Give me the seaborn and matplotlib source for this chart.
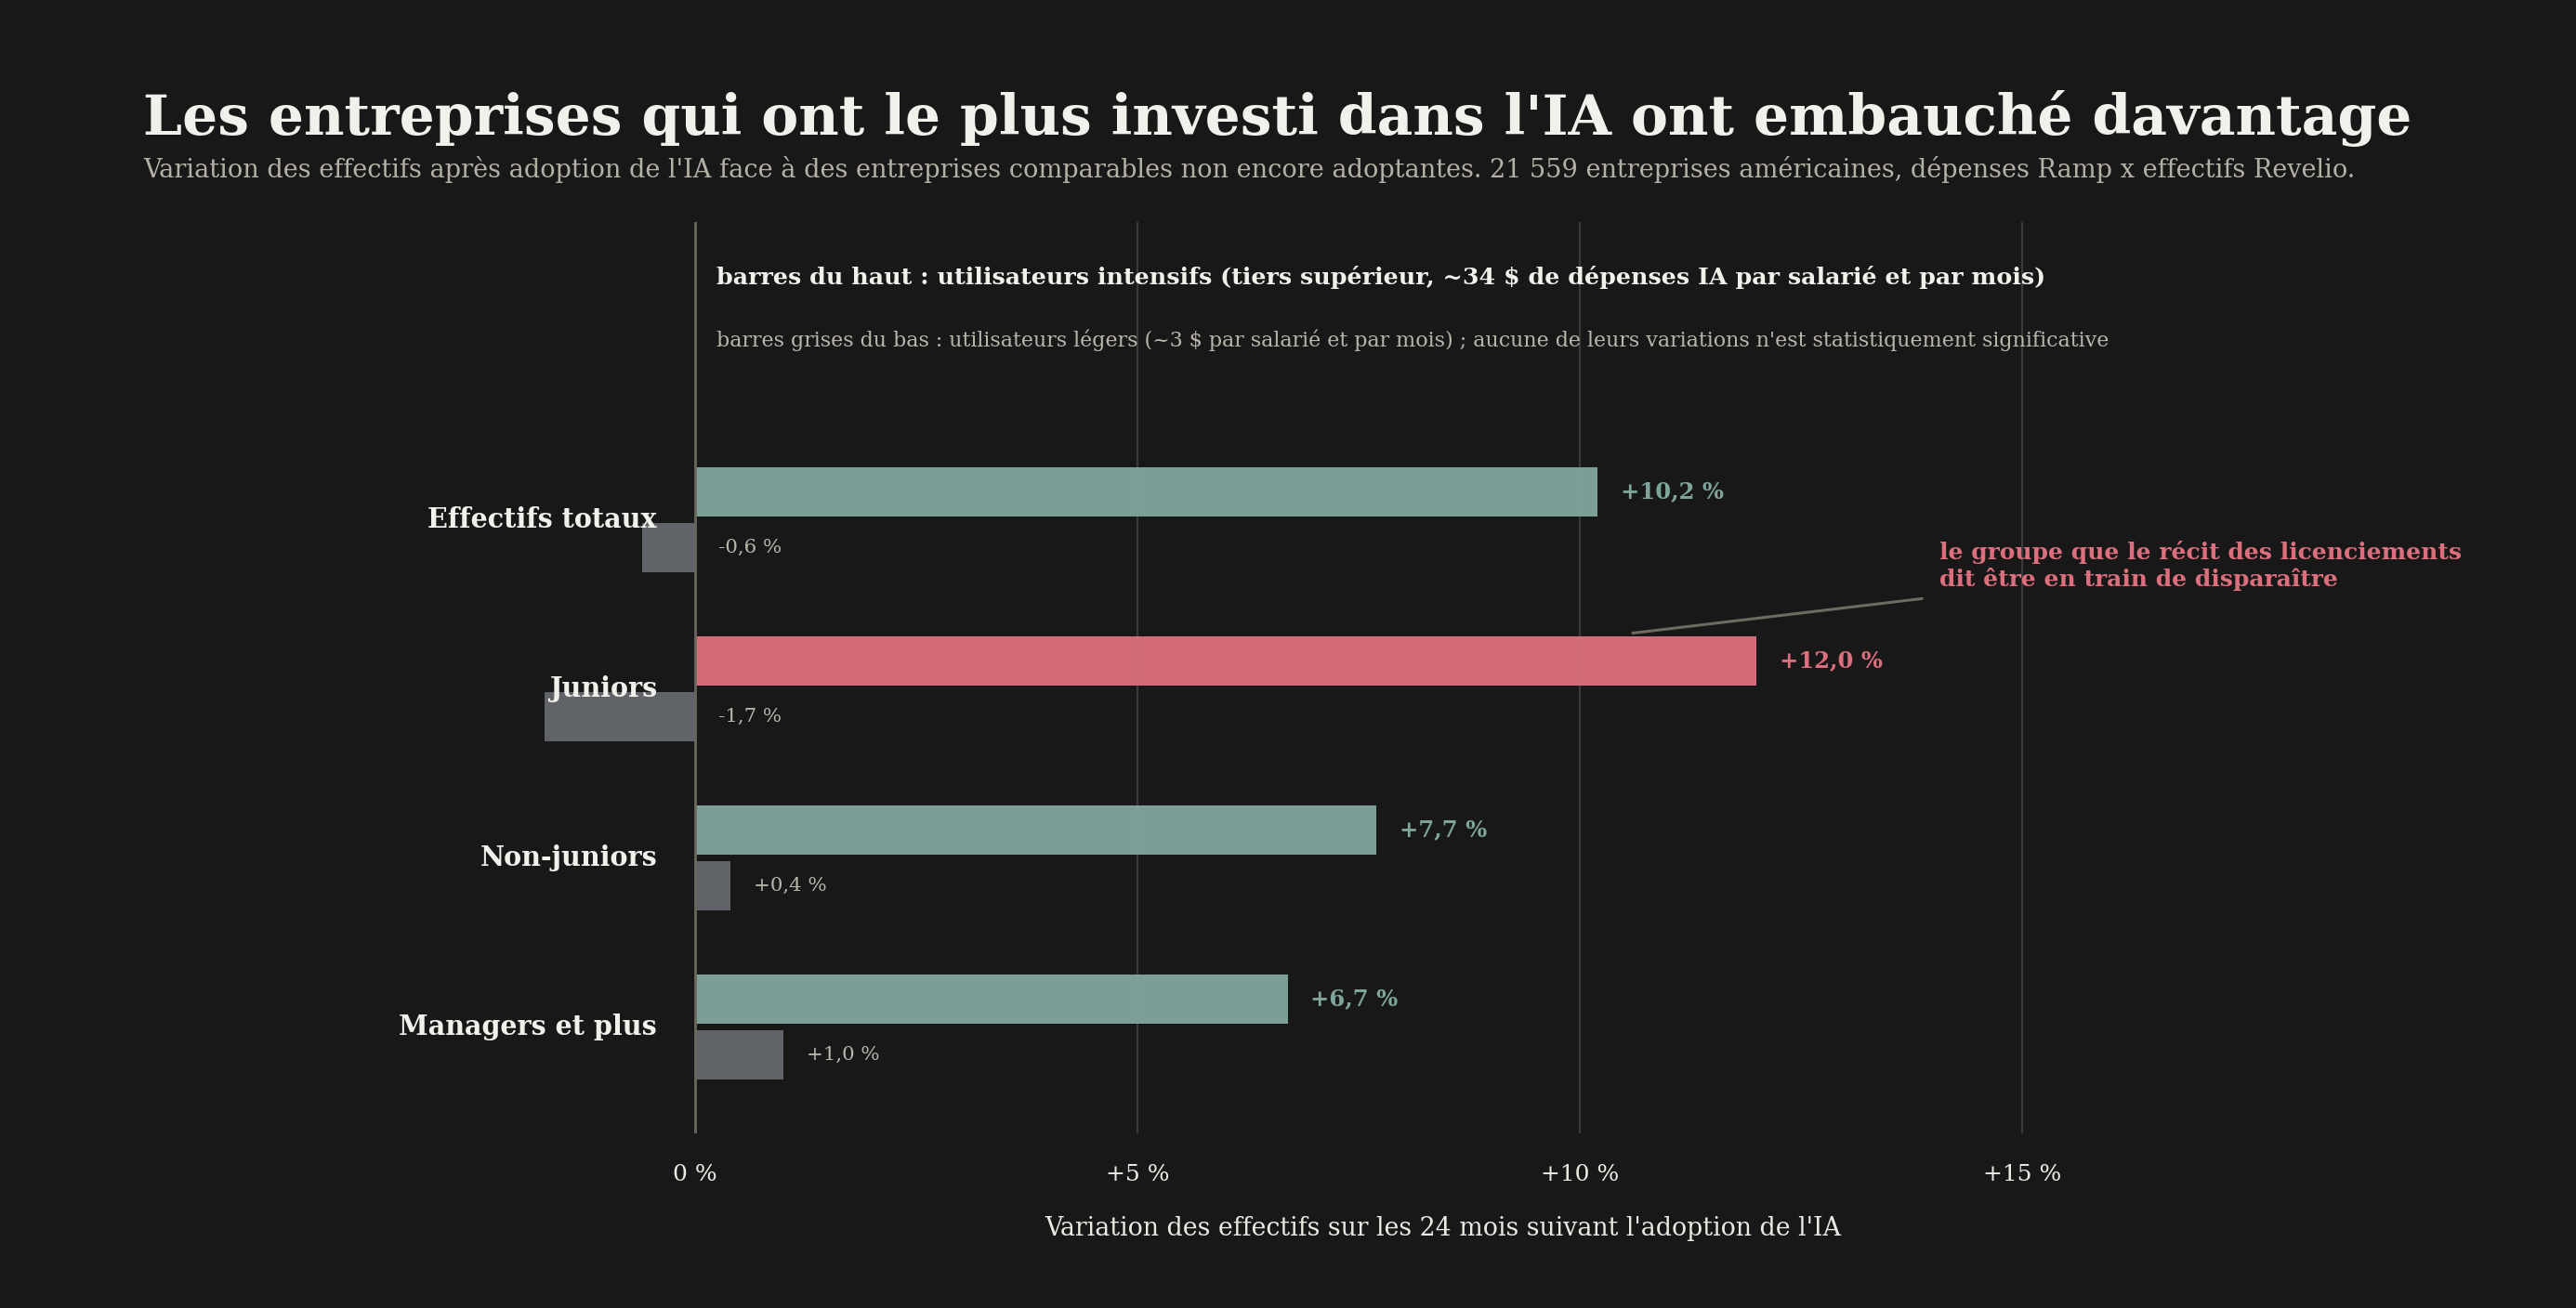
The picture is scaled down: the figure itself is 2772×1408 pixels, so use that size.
import matplotlib
matplotlib.use("Agg")
import matplotlib.pyplot as plt
import seaborn as sns
import pandas as pd

# ---------------- data ----------------
categories = ["Effectifs totaux", "Juniors", "Non-juniors", "Managers et plus"]
intensive = [10.2, 12.0, 7.7, 6.7]
light = [-0.6, -1.7, 0.4, 1.0]
groups = ["intensifs", "légers"]
xticks = [0, 5, 10, 15]
xtick_labels = ["0 %", "+5 %", "+10 %", "+15 %"]

title = "Les entreprises qui ont le plus investi dans l'IA ont embauché davantage"
subtitle = ("Variation des effectifs après adoption de l'IA face à des entreprises comparables non encore "
            "adoptantes. 21 559 entreprises américaines, dépenses Ramp x effectifs Revelio.")
legend_top = "barres du haut : utilisateurs intensifs (tiers supérieur, ~34 $ de dépenses IA par salarié et par mois)"
legend_bottom = ("barres grises du bas : utilisateurs légers (~3 $ par salarié et par mois) ; "
                 "aucune de leurs variations n'est statistiquement significative")
xlabel = "Variation des effectifs sur les 24 mois suivant l'adoption de l'IA"
annotation = "le groupe que le récit des licenciements\ndit être en train de disparaître"

# ---------------- style ----------------
BG = "#181818"
TEAL = "#82A79F"
RED = "#DA6F7D"
GREY = "#65696E"
TEAL_TXT = "#7FA49C"
RED_TXT = "#DB6F7D"
GREY_TXT = "#B9B5AB"
WHITE = "#F2F0EA"
SUB = "#B5B0A5"

sns.set_theme(style="dark")
plt.rcParams["font.family"] = ["DejaVu Serif"]

df = pd.DataFrame({
    "cat": categories * 2,
    "val": intensive + light,
    "grp": [groups[0]] * len(categories) + [groups[1]] * len(categories),
})

fig = plt.figure(figsize=(27.72, 14.08), dpi=100, facecolor=BG)
ax = fig.add_axes([0.1324, 0.1335, 0.8243, 0.6965])
ax.set_facecolor(BG)

sns.barplot(data=df, y="cat", x="val", hue="grp", hue_order=groups, order=categories,
            palette={groups[0]: TEAL, groups[1]: GREY}, orient="h", dodge=True,
            width=0.66, gap=0.12, alpha=0.94, saturation=1, errorbar=None, legend=False,
            ax=ax, zorder=2, linewidth=0, edgecolor="none")

top_bars = ax.containers[0]
low_bars = ax.containers[1]
top_bars[1].set_facecolor(RED)
top_bars[1].set_alpha(0.97)
for p in list(top_bars) + list(low_bars):
    p.set_linewidth(0)
    p.set_edgecolor("none")

ax.set_xlim(-4, 20)
ax.set_ylim(3.63, -1.76)
ax.set_xticks(xticks)
ax.set_xticklabels(xtick_labels)
ax.set_yticks([])
ax.set_xlabel("")
ax.set_ylabel("")
for s in ax.spines.values():
    s.set_visible(False)
ax.grid(False)
for xt in xticks[1:]:
    ax.axvline(xt, color="#3A3A3A", lw=1.6, zorder=1)
ax.axvline(0, color="#6B675F", lw=2.0, zorder=3)
ax.tick_params(axis="x", length=0, pad=24, colors="#ECE9E2", labelsize=18)

renderer = fig.canvas.get_renderer()

def fit(t, target):
    w = t.get_window_extent(renderer).width
    t.set_fontsize(t.get_fontsize() * target / w)
    return t

# category labels
cat_size = None
for i, c in enumerate(categories):
    t = ax.text(-0.43, i, c, ha="right", va="center", color=WHITE, fontweight="bold",
                fontsize=20, zorder=5)
    if c == "Managers et plus":
        fit(t, 278)
        cat_size = t.get_fontsize()
for t in ax.texts:
    t.set_fontsize(cat_size)

def fmt(v):
    s = f"{v:+.1f}".replace(".", ",")
    return s + " %"

# value labels
vsize = None
for i, p in enumerate(top_bars):
    v = intensive[i]
    yc = p.get_y() + p.get_height() / 2
    col = RED_TXT if i == 1 else TEAL_TXT
    t = ax.text(v + 0.26, yc, fmt(v), ha="left", va="center", color=col,
                fontweight="bold", fontsize=18, zorder=5)
    if i == 0:
        fit(t, 111)
        vsize = t.get_fontsize()
    else:
        t.set_fontsize(vsize)
for i, p in enumerate(low_bars):
    v = light[i]
    yc = p.get_y() + p.get_height() / 2
    ax.text(max(v, 0) + 0.26, yc, fmt(v), ha="left", va="center", color=GREY_TXT,
            fontsize=vsize * 0.88, zorder=5)

# annotation
ax.plot([10.6, 13.87], [0.67, 0.466], color="#6E6A62", lw=2.2, zorder=4)
ta = ax.text(14.07, 0.27, annotation, ha="left", va="center", color=RED_TXT,
             fontweight="bold", fontsize=18, linespacing=1.2, zorder=5)
fit(ta, 562)

# titles
tt = fig.text(0.0556, 0.897, title, ha="left", va="baseline", color=WHITE,
              fontweight="bold", fontsize=40)
fit(tt, 2440)
ts = fig.text(0.0556, 0.864, subtitle, ha="left", va="baseline", color=SUB, fontsize=18)
fit(ts, 2385)
tl1 = fig.text(0.278, 0.783, legend_top, ha="left", va="baseline", color=WHITE,
               fontweight="bold", fontsize=16)
fit(tl1, 1428)
tl2 = fig.text(0.278, 0.735, legend_bottom, ha="left", va="baseline", color=GREY_TXT, fontsize=15)
fit(tl2, 1504)
tx = fig.text(0.560, 0.061, xlabel, ha="center", va="center", color="#ECE9E2", fontsize=18)
fit(tx, 856)

fig.savefig("out.png", dpi=100, facecolor=BG)
